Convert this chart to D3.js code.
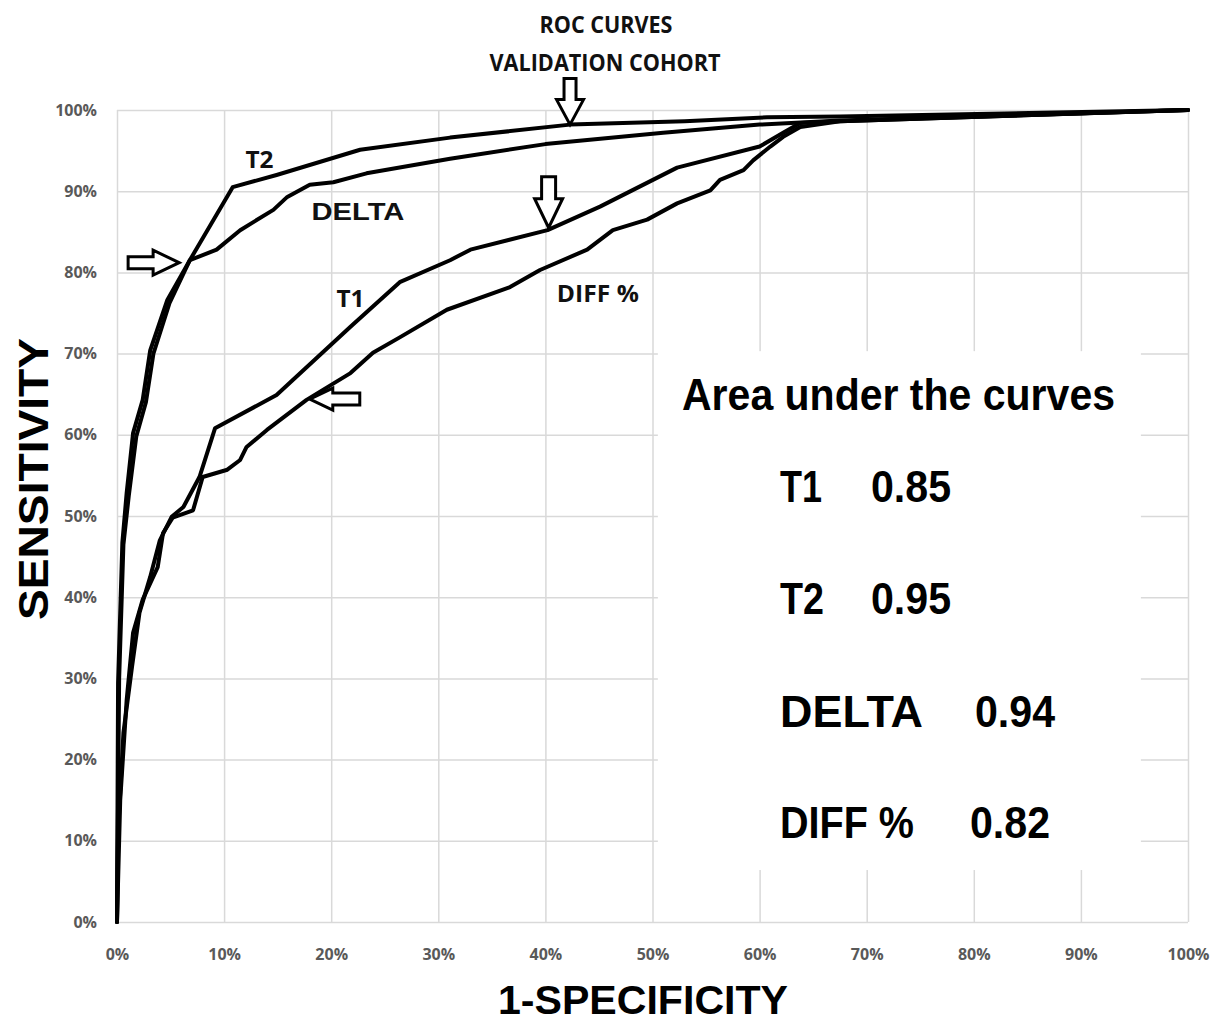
<!DOCTYPE html>
<html>
<head>
<meta charset="utf-8">
<script src="https://cdn.jsdelivr.net/npm/d3@7"></script>
<style>
	body { margin: 0; background: white; }
</style>
</head>
<body>
<script>

//tick values for both axes (0% .. 100%)
let ticks = [0, 0.1, 0.2, 0.3, 0.4, 0.5, 0.6, 0.7, 0.8, 0.9, 1];

//ROC points, 1-specificity (fpr) and sensitivity (tpr)
let t1Fpr = [0, 0.001, 0.006, 0.014, 0.021, 0.031, 0.040, 0.051, 0.062, 0.077, 0.0915, 0.149, 0.218, 0.264, 0.311, 0.330, 0.402, 0.451, 0.523, 0.600, 0.622, 0.638, 0.675, 1];
let t1Tpr = [0, 0.110, 0.233, 0.314, 0.381, 0.425, 0.470, 0.499, 0.511, 0.548, 0.608, 0.649, 0.733, 0.788, 0.815, 0.828, 0.852, 0.881, 0.929, 0.955, 0.972, 0.984, 0.986, 1];

let t2Fpr = [0, 0.001, 0.005, 0.009, 0.015, 0.024, 0.031, 0.047, 0.068, 0.108, 0.149, 0.227, 0.311, 0.423, 0.530, 0.607, 0.675, 1];
let t2Tpr = [0, 0.294, 0.467, 0.528, 0.602, 0.643, 0.704, 0.766, 0.815, 0.905, 0.920, 0.951, 0.966, 0.982, 0.986, 0.991, 0.992, 1];

let deltaFpr = [0, 0.002, 0.006, 0.011, 0.018, 0.027, 0.034, 0.049, 0.068, 0.093, 0.115, 0.146, 0.159, 0.180, 0.202, 0.233, 0.311, 0.400, 0.510, 0.600, 0.675, 1];
let deltaTpr = [0, 0.300, 0.465, 0.525, 0.598, 0.640, 0.700, 0.762, 0.815, 0.828, 0.852, 0.877, 0.893, 0.908, 0.911, 0.922, 0.940, 0.958, 0.972, 0.982, 0.987, 1];

let diffFpr = [0, 0.003, 0.009, 0.015, 0.024, 0.038, 0.043, 0.052, 0.071, 0.080, 0.103, 0.115, 0.121, 0.140, 0.177, 0.218, 0.239, 0.264, 0.308, 0.367, 0.395, 0.439, 0.463, 0.495, 0.523, 0.554, 0.563, 0.585, 0.594, 0.610, 0.622, 0.638, 0.675, 1];
let diffTpr = [0, 0.150, 0.273, 0.356, 0.397, 0.437, 0.479, 0.498, 0.507, 0.548, 0.557, 0.569, 0.585, 0.606, 0.643, 0.676, 0.701, 0.720, 0.754, 0.782, 0.803, 0.828, 0.852, 0.865, 0.885, 0.901, 0.914, 0.926, 0.938, 0.955, 0.967, 0.979, 0.986, 1];

//area under the curve values for the text box
let aucNames = ["T1", "T2", "DELTA", "DIFF %"];
let aucValues = ["0.85", "0.95", "0.94", "0.82"];

let svg = d3.select("body").append("svg")
	.attr("width", 1217)
	.attr("height", 1022);

let width = +svg.attr("width");
let height = +svg.attr("height");

let margin = { top: 110, right: 29, bottom: 100, left: 117 };

let x = d3.scaleLinear().domain([0, 1]).range([margin.left, width - margin.right]);
let y = d3.scaleLinear().domain([0, 1]).range([height - margin.bottom, margin.top]);

let pct = d3.format(".0%");
let grid = "#d9d9d9";

//gridlines, done with axes so the ticks line up
svg.append("g")
	.attr("transform", `translate(0, ${y(0)})`)
	.call(d3.axisBottom(x).tickValues(ticks).tickSize(-(y(0) - y(1))).tickFormat(""))
	.call(g => g.select(".domain").remove())
	.call(g => g.selectAll("line").attr("stroke", grid).attr("stroke-width", 1.5));

svg.append("g")
	.attr("transform", `translate(${x(0)}, 0)`)
	.call(d3.axisLeft(y).tickValues(ticks).tickSize(-(x(1) - x(0))).tickFormat(""))
	.call(g => g.select(".domain").remove())
	.call(g => g.selectAll("line").attr("stroke", grid).attr("stroke-width", 1.5));

//tick labels
svg.append("g")
	.attr("transform", `translate(0, ${y(0)})`)
	.call(d3.axisBottom(x).tickValues(ticks).tickSize(0).tickPadding(27).tickFormat(pct))
	.call(g => g.select(".domain").remove())
	.call(g => g.selectAll("text")
		.attr("font-family", "'Open Sans', sans-serif")
		.attr("font-weight", "bold")
		.attr("font-size", 16)
		.attr("fill", "#595959"));

svg.append("g")
	.attr("transform", `translate(${x(0)}, 0)`)
	.call(d3.axisLeft(y).tickValues(ticks).tickSize(0).tickPadding(20).tickFormat(pct))
	.call(g => g.select(".domain").remove())
	.call(g => g.selectAll("text")
		.attr("font-family", "'Open Sans', sans-serif")
		.attr("font-weight", "bold")
		.attr("font-size", 16)
		.attr("fill", "#595959"));

//white box behind the AUC text hides the grid there
svg.append("rect")
	.attr("x", x(0.505))
	.attr("y", y(0.703))
	.attr("width", x(0.956) - x(0.505))
	.attr("height", y(0.064) - y(0.703))
	.attr("fill", "white");

//the four roc curves
let series = [
	{ name: "T1", fpr: t1Fpr, tpr: t1Tpr },
	{ name: "T2", fpr: t2Fpr, tpr: t2Tpr },
	{ name: "DELTA", fpr: deltaFpr, tpr: deltaTpr },
	{ name: "DIFF %", fpr: diffFpr, tpr: diffTpr }
];

let line = d3.line()
	.x(d => x(d[0]))
	.y(d => y(d[1]));

svg.append("g")
	.selectAll("path")
	.data(series)
	.enter().append("path")
	.attr("d", s => line(s.fpr.map((f, i) => [f, s.tpr[i]])))
	.attr("fill", "none")
	.attr("stroke", "black")
	.attr("stroke-width", 4)
	.attr("stroke-linejoin", "round")
	.attr("stroke-linecap", "round");

//hollow block arrows: tip point, direction, length and widths in pixels
function arrow(tipX, tipY, dir, len, shaft, head, headLen) {
	//build pointing right from the tip, then rotate
	let pts = [
		[0, 0],
		[-headLen, -head / 2],
		[-headLen, -shaft / 2],
		[-len, -shaft / 2],
		[-len, shaft / 2],
		[-headLen, shaft / 2],
		[-headLen, head / 2]
	];
	let angle = { right: 0, down: 90, left: 180 }[dir];
	svg.append("path")
		.attr("d", "M" + pts.map(p => p.join(",")).join("L") + "Z")
		.attr("transform", `translate(${tipX}, ${tipY}) rotate(${angle})`)
		.attr("fill", "white")
		.attr("stroke", "black")
		.attr("stroke-width", 3)
		.attr("stroke-linejoin", "miter");
}

arrow(x(0.423), y(0.982), "down", 46, 12, 27, 25);
arrow(x(0.403), y(0.855), "down", 51, 14, 28, 29);
arrow(x(0.058), y(0.812), "right", 51, 12, 25, 26);
arrow(x(0.180), y(0.644), "left", 50, 12, 22, 23);

//curve labels
let labelFont = "'Open Sans', sans-serif";
let curveLabels = [
	{ text: "T2", fx: 0.133, fy: 0.928, w: 28 },
	{ text: "DELTA", fx: 0.225, fy: 0.864, w: 93 },
	{ text: "T1", fx: 0.218, fy: 0.757, w: 28 },
	{ text: "DIFF %", fx: 0.449, fy: 0.763, w: 82 }
];

svg.append("g")
	.selectAll("text")
	.data(curveLabels)
	.enter().append("text")
	.attr("x", d => x(d.fx))
	.attr("y", d => y(d.fy))
	.attr("text-anchor", "middle")
	.attr("font-family", d => d.text == "DELTA" ? "'Liberation Sans', Arial, sans-serif" : labelFont)
	.attr("font-weight", "bold")
	.attr("font-size", 23)
	.attr("textLength", d => d.w)
	.attr("lengthAdjust", "spacingAndGlyphs")
	.attr("fill", "#111")
	.text(d => d.text);

//title
svg.append("text")
	.attr("x", 606)
	.attr("y", 33)
	.attr("text-anchor", "middle")
	.attr("font-family", labelFont)
	.attr("font-weight", "bold")
	.attr("font-size", 23)
	.attr("textLength", 133)
	.attr("lengthAdjust", "spacingAndGlyphs")
	.attr("fill", "#111")
	.text("ROC CURVES");

svg.append("text")
	.attr("x", 605)
	.attr("y", 71)
	.attr("text-anchor", "middle")
	.attr("font-family", labelFont)
	.attr("font-weight", "bold")
	.attr("font-size", 23)
	.attr("textLength", 231)
	.attr("lengthAdjust", "spacingAndGlyphs")
	.attr("fill", "#111")
	.text("VALIDATION COHORT");

//AUC text box
let bigFont = "'Liberation Sans', Arial, sans-serif";

svg.append("text")
	.attr("x", 682)
	.attr("y", 410)
	.attr("font-family", bigFont)
	.attr("font-weight", "bold")
	.attr("font-size", 44)
	.attr("textLength", 433)
	.attr("lengthAdjust", "spacingAndGlyphs")
	.text("Area under the curves");

let rowY = [502, 614, 727, 838];
let nameW = [42, 44, 143, 134];
let valueX = [871, 871, 975, 970];

aucNames.forEach(function(name, i) {
	svg.append("text")
		.attr("x", 780)
		.attr("y", rowY[i])
		.attr("font-family", bigFont)
		.attr("font-weight", "bold")
		.attr("font-size", 44)
		.attr("textLength", nameW[i])
		.attr("lengthAdjust", "spacingAndGlyphs")
		.text(name);

	svg.append("text")
		.attr("x", valueX[i])
		.attr("y", rowY[i])
		.attr("font-family", bigFont)
		.attr("font-weight", "bold")
		.attr("font-size", 44)
		.attr("textLength", 80)
		.attr("lengthAdjust", "spacingAndGlyphs")
		.text(aucValues[i]);
});

//axis titles
svg.append("text")
	.attr("x", 643)
	.attr("y", 1014)
	.attr("text-anchor", "middle")
	.attr("font-family", bigFont)
	.attr("font-weight", "bold")
	.attr("font-size", 40)
	.attr("textLength", 290)
	.attr("lengthAdjust", "spacingAndGlyphs")
	.text("1-SPECIFICITY");

svg.append("text")
	.attr("transform", "translate(48, 479) rotate(-90)")
	.attr("text-anchor", "middle")
	.attr("font-family", bigFont)
	.attr("font-weight", "bold")
	.attr("font-size", 42)
	.attr("textLength", 282)
	.attr("lengthAdjust", "spacingAndGlyphs")
	.text("SENSITIVITY");

</script>
</body>
</html>
